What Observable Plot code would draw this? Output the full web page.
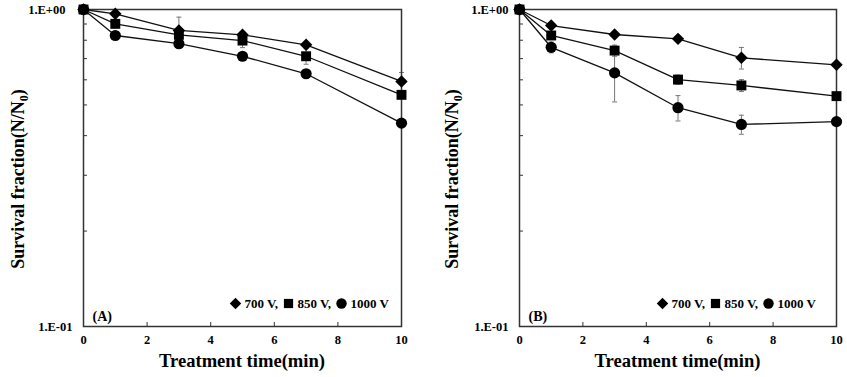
<!DOCTYPE html>
<html>
<head>
<meta charset="utf-8">
<script src="https://cdn.jsdelivr.net/npm/d3@7"></script>
<script src="https://cdn.jsdelivr.net/npm/@observablehq/plot@0.6"></script>
<style>
  html, body { margin: 0; padding: 0; background: #fff; }
  #chart { position: relative; width: 847px; height: 377px; overflow: hidden; background: #fff; }
  #chart svg { position: absolute; top: 0; }
</style>
</head>
<body>
<div id="chart"></div>
<script>
// ---- data ----
const times = [0, 1, 3, 5, 7, 10];
const seriesNames = ["700 V", "850 V", "1000 V"];
const legendLabels = ["700 V,", "850 V,", "1000 V"];
const symbolsList = ["diamond2", "square", "circle"];

// Panel (A)
const a700 = [1.0, 0.969, 0.859, 0.832, 0.774, 0.593];
const a850 = [1.0, 0.901, 0.832, 0.798, 0.712, 0.538];
const a1000 = [1.0, 0.828, 0.780, 0.712, 0.627, 0.438];
const a700Err = [0, 0.01, 0.087, 0.01, 0.015, 0.04];
const a850Err = [0, 0.01, 0.02, 0.04, 0.04, 0.01];
const a1000Err = [0, 0.01, 0.01, 0.01, 0.01, 0.01];

// Panel (B)
const b700 = [1.0, 0.890, 0.834, 0.808, 0.704, 0.669];
const b850 = [1.0, 0.828, 0.742, 0.601, 0.576, 0.533];
const b1000 = [1.0, 0.760, 0.631, 0.490, 0.434, 0.443];
const b700Err = [0, 0.01, 0.01, 0.01, 0.055, 0.01];
const b850Err = [0, 0.02, 0.03, 0.02, 0.025, 0.01];
const b1000Err = [0, 0.03, 0.12, 0.045, 0.03, 0.01];

const xTicks = [0, 2, 4, 6, 8, 10];
const yMajorTicks = [1, 0.1];
const yTickLabels = ["1.E+00", "1.E-01"];
const yMinorTicks = [0.2, 0.3, 0.4, 0.5, 0.6, 0.7, 0.8, 0.9];
const xTitle = "Treatment time(min)";
const yTitleMain = "Survival fraction(N/N";
const yTitleSub = "0";
const yTitleEnd = ")";

// ---- drawing ----
const H = 377, MT = 9, MB = 51;
const FONT = "'Liberation Serif', 'Times New Roman', serif";
const SMALL = 12.5;
const capSymbol = {
  draw(context) { context.moveTo(-2.5, 0); context.lineTo(2.5, 0); }
};

function panel(cfg) {
  const data = [];
  cfg.series.forEach((vals, si) =>
    vals.forEach((v, i) => data.push({t: times[i], v, e: cfg.errs[si][i], s: seriesNames[si]})));
  const errData = data.filter(d => d.e > 0);
  const frameW = cfg.width - cfg.ml - cfg.mr;
  const frameH = H - MT - MB;

  const legendMarks = [];
  seriesNames.forEach((name, i) => {
    legendMarks.push(Plot.dot([name], {
      frameAnchor: "bottom-left", dx: cfg.legendX + i * 53, dy: -23,
      symbol: d => d, fill: "black", r: 5.2
    }));
    legendMarks.push(Plot.text([legendLabels[i]], {
      frameAnchor: "bottom-left", dx: cfg.legendX + i * 53 + 9, dy: -23,
      text: d => d, textAnchor: "start", lineAnchor: "middle",
      fontSize: 13, fontWeight: "bold", fill: "black"
    }));
  });

  const svg = Plot.plot({
    width: cfg.width, height: H,
    marginLeft: cfg.ml, marginRight: cfg.mr, marginTop: MT, marginBottom: MB,
    style: {fontFamily: FONT, fontWeight: "bold", fontSize: SMALL + "px", color: "#000", background: "white", overflow: "visible"},
    x: {domain: [0, 10], axis: null},
    y: {type: "log", domain: [0.1, 1], axis: null},
    symbol: {domain: seriesNames, range: symbolsList},
    marks: [
      Plot.ruleX(errData, {x: "t", y1: d => d.v - d.e, y2: d => d.v + d.e, stroke: "#777", strokeWidth: 1}),
      Plot.dot(errData, {x: "t", y: d => d.v - d.e, symbol: capSymbol, fill: "none", stroke: "#777", strokeWidth: 1}),
      Plot.dot(errData, {x: "t", y: d => d.v + d.e, symbol: capSymbol, fill: "none", stroke: "#777", strokeWidth: 1}),
      Plot.line(data, {x: "t", y: "v", z: "s", stroke: "#111", strokeWidth: 1.3}),
      Plot.tickX(xTicks.slice(1, -1), {x: d => d, insetTop: frameH - 4, stroke: "#333"}),
      Plot.tickY(yMinorTicks, {y: d => d, insetRight: frameW - 4, stroke: "#333"}),
      Plot.frame({stroke: "#333", strokeWidth: 1.5}),
      Plot.dot(data, {x: "t", y: "v", symbol: "s", fill: "black", r: 5.6}),
      // x tick labels
      Plot.text(xTicks, {x: d => d, frameAnchor: "bottom", lineAnchor: "top", dy: 9, text: d => String(d), fontSize: SMALL, fontWeight: "bold", fill: "black"}),
      // y tick labels
      Plot.text([yMajorTicks[0]], {y: d => d, frameAnchor: "left", dx: -cfg.padTop, textAnchor: "end", lineAnchor: "middle", text: () => yTickLabels[0], fontSize: SMALL, fontWeight: "bold", fill: "black"}),
      Plot.text([yMajorTicks[1]], {y: d => d, frameAnchor: "left", dx: -cfg.padBottom, textAnchor: "end", lineAnchor: "middle", text: () => yTickLabels[1], fontSize: SMALL, fontWeight: "bold", fill: "black"}),
      Plot.text([cfg.tag], {frameAnchor: "bottom-left", dx: 9, dy: -10, text: d => d, textAnchor: "start", lineAnchor: "middle", fontSize: 14, fontWeight: "bold", fill: "black"}),
      ...legendMarks
    ]
  });

  const s = d3.select(svg);
  s.append("text")
    .attr("x", cfg.ml + frameW / 2).attr("y", 367)
    .attr("text-anchor", "middle")
    .attr("font-family", FONT).attr("font-weight", "bold").attr("font-size", 18.6)
    .attr("fill", "black")
    .text(xTitle);
  const yt = s.append("text")
    .attr("transform", `translate(${cfg.titleX},179) rotate(-90)`)
    .attr("text-anchor", "middle").attr("dy", "0.35em")
    .attr("font-family", FONT).attr("font-weight", "bold").attr("font-size", 18)
    .attr("fill", "black");
  yt.append("tspan").text(yTitleMain);
  yt.append("tspan").attr("dy", 4).attr("font-size", 12).text(yTitleSub);
  yt.append("tspan").attr("dy", -4).text(yTitleEnd);

  svg.style.left = cfg.left + "px";
  return svg;
}

const chart = document.getElementById("chart");
chart.appendChild(panel({
  left: 0, width: 423, ml: 83, mr: 22,
  series: [a700, a850, a1000], errs: [a700Err, a850Err, a1000Err],
  tag: "(A)", legendX: 152, padTop: 18, padBottom: 11, titleX: 18
}));
chart.appendChild(panel({
  left: 423, width: 424, ml: 96, mr: 11,
  series: [b700, b850, b1000], errs: [b700Err, b850Err, b1000Err],
  tag: "(B)", legendX: 143, padTop: 11, padBottom: 11, titleX: 29
}));
</script>
</body>
</html>
